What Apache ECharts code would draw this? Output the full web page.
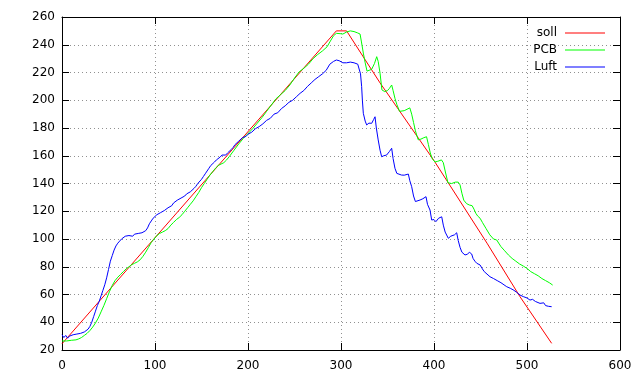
<!DOCTYPE html>
<html>
<head>
<meta charset="utf-8">
<script src="https://cdn.jsdelivr.net/npm/echarts@6/dist/echarts.min.js"></script>
<style>html,body{margin:0;padding:0;background:#fff}#c{width:640px;height:384px}</style>
</head>
<body>
<div id="c"></div>
<script>
const seriesNames = ['soll', 'PCB', 'Luft'];
const xTicks = [0, 100, 200, 300, 400, 500, 600];
const yTicks = [20, 40, 60, 80, 100, 120, 140, 160, 180, 200, 220, 240, 260];

const soll = [[0,24.5],[295,250],[306,250],[342,212.5],[400,156.5],[457,97],[492.5,58.4],[526.5,24.8]];

const pcb = [[0,26.5],[5,26.5],[10,27],[15,27.3],[18,28],[21,29],[24,30.5],[27,32],[30,34],[33,36.5],[36,39.5],[39,43],[42,47.5],[45,52],[48,57],[51,62],[54,66.5],[57,70],[60,72.5],[63,74.5],[66,76.5],[69,78.5],[72,80],[75,81.5],[78,82.5],[81,83.5],[84,85],[87,87.5],[90,90.5],[93,94],[96,97.5],[99,100],[102,102.5],[105,104],[108,105],[111,106],[114,107.5],[117,110],[120,112],[123,114],[126,115.5],[129,117.5],[132,120],[135,122.5],[138,125],[141,127.5],[144,130.5],[147,133.5],[150,137],[153,140],[156,143],[159,146],[162,148.5],[165,151],[168,153],[171,154],[174,155],[177,157],[180,159.5],[185,164],[190,168.5],[195,172.5],[200,176],[205,179.5],[210,183.5],[215,187.5],[220,192],[225,196.5],[230,201],[235,204],[240,207],[245,211],[250,216],[255,220.5],[260,223],[265,226],[270,230],[275,233],[280,235.5],[285,238.5],[288,242],[292,246.5],[295,248.2],[299,248],[302,247.7],[306,249.2],[310,250],[314,249.5],[318,248.5],[320.5,247.7],[322,242],[324,234],[326,227],[328,221],[330,220.5],[333,222.3],[336,226.5],[338.4,231.4],[340,228],[342,219.5],[344,207.5],[347,206.2],[350,207],[352,208.5],[354.5,211],[356,207],[358,201.4],[360,197],[363,192],[365,191.5],[368,192.5],[371,193.5],[374,194.5],[376,190],[378,184],[380,178],[383,171.5],[386,172],[389,173],[392,173.7],[394,168],[396,162],[398,158],[401,155.5],[404,156],[408,157],[410,155],[412,149],[415,140.5],[419,140],[421,140.5],[423,141],[426,141],[428,139],[430,133],[432,128],[435,125.5],[438,124.5],[441,124],[443,121.5],[445,118.5],[447,116.5],[449.5,115],[452,112],[456,107.5],[460,103],[464,100],[467.4,99.3],[472,94.5],[476,91.5],[480,88.5],[484,86],[488,84],[492,82],[496,80.5],[500,78.8],[504,76.5],[508,75],[512,73.5],[516,71.5],[520,70],[524,68.5],[527.6,66.8]];

const luft = [[0,31],[2,29],[4,30.5],[6,28.5],[8,30],[10,29.5],[12,31],[14,30],[16,31.5],[18,31],[20,32],[22,31.5],[24,33],[26,34],[28,35],[30,37],[32,40],[34,44],[36,48],[38,52],[40,55],[42,59],[44,63],[46,67],[48,72],[50,78],[52,84],[54,88],[56,92],[58,95],[60,97],[62,98.5],[64,100],[66,101],[68,102],[70,101.5],[72,102.5],[74,103],[76,102],[78,103.5],[80,103],[82,104],[84,103],[86,104.5],[88,105],[90,106],[92,108],[94,111],[96,113],[98,115],[100,116],[102,117.5],[104,118],[106,119],[108,119.5],[110,120.5],[112,121],[114,122.5],[116,123],[118,124],[120,126],[122,126.5],[124,128],[126,129],[128,129.5],[130,130.5],[132,131],[134,132.5],[136,133],[138,134],[140,135],[142,136.5],[144,138],[146,140],[148,141],[150,143],[152,145],[154,147],[156,149],[158,151],[160,153],[162,154],[164,155.5],[166,157],[168,158],[170,159],[172,160.5],[174,161],[176,160.5],[178,162],[180,163],[182,164.5],[184,166],[186,168],[188,169],[190,170.5],[192,171],[194,173],[196,172.5],[198,174],[200,175.5],[204,177],[208,179.5],[212,181],[216,183],[220,185.5],[224,187],[228,190],[232,191],[236,194],[240,196],[244,198.5],[248,200],[252,202.5],[256,205],[260,207],[264,210],[268,212.5],[272,215],[276,217],[280,219],[284,221.5],[288,226],[292,228],[295,229],[298,228.5],[300,228],[302,227],[304,228],[306,227],[308,226.5],[310,227.5],[312,228],[314,227],[316,226.6],[318,226],[319.7,227],[321,219],[322.2,209.8],[323,200],[324,190.6],[326,185],[327.6,182.2],[330,183.5],[333,183.4],[335,186],[336.6,188.1],[338,180],[340,171.4],[342,164],[343.7,159.3],[346,160],[349,160.5],[352,163],[354.5,165.4],[356,158],[358,151],[360,147.3],[362,146],[365,146.1],[368,146],[370,146.5],[372.4,146.8],[374,142],[376,137.7],[378,131],[380,127],[382,126.5],[385,128.1],[388,129],[391.4,130.5],[393,125],[395.7,120.9],[397.5,113.7],[400,114],[402,112.5],[405,115],[407,116],[408.3,116],[410,110],[412,105],[415.4,100.5],[418,102],[420,101.5],[422,103],[424.4,104.5],[426,99],[428,94],[430,90.5],[433.3,88.5],[436,89],[438,90.5],[440.5,89.2],[442,86],[444,84],[446,82.5],[449.5,81.3],[452,78.5],[454,76.5],[456,75.5],[460.2,72.8],[464,71.5],[468,70],[472,68.5],[478.2,65.6],[482,64.5],[486,63],[489,61.5],[492.5,59.6],[496,58.5],[500,57.5],[503.2,56],[506,56.5],[509,55],[514,53.6],[516,53],[518,54],[520,52],[523,51.5],[526.5,51.2]];

const colors = ['#ff0000', '#00ff00', '#0000ff'];
const FONT = 'DejaVu Sans';

const chart = echarts.init(document.getElementById('c'), null, {renderer: 'canvas'});
const xMin = xTicks[0], xMax = xTicks[xTicks.length - 1], xInt = xTicks[1] - xTicks[0];
const yMin = yTicks[0], yMax = yTicks[yTicks.length - 1], yInt = yTicks[1] - yTicks[0];
const axisLine = {show: true, onZero: false, lineStyle: {color: '#000', width: 1}};
const tick = {show: true, inside: true, length: 7, lineStyle: {color: '#000'}};
const grid = {show: true, lineStyle: {color: '#909090', type: [1, 3], width: 1}};
const lbl = {color: '#000', fontFamily: FONT, fontSize: 12};

chart.setOption({
  animation: false,
  backgroundColor: '#fff',
  grid: {left: 62, right: 20, top: 17, bottom: 34, containLabel: false},
  legend: {
    orient: 'vertical', right: 30, top: 22, align: 'right',
    itemWidth: 40, itemHeight: 12, itemGap: 5,
    textStyle: {color: '#000', fontFamily: FONT, fontSize: 12, padding: [0, 3, 0, 0]},
    data: seriesNames.map(n => ({name: n, icon: 'path://M0,0L40,0L40,1L0,1Z'}))
  },
  xAxis: [
    {type: 'value', position: 'bottom', min: xMin, max: xMax, interval: xInt,
     axisLine, axisTick: tick, splitLine: grid,
     axisLabel: Object.assign({margin: 10}, lbl)},
    {type: 'value', position: 'top', min: xMin, max: xMax, interval: xInt,
     axisLine, axisTick: tick, splitLine: {show: false}, axisLabel: {show: false}}
  ],
  yAxis: [
    {type: 'value', position: 'left', min: yMin, max: yMax, interval: yInt,
     axisLine, axisTick: tick, splitLine: grid,
     axisLabel: Object.assign({margin: 7}, lbl)},
    {type: 'value', position: 'right', min: yMin, max: yMax, interval: yInt,
     axisLine, axisTick: tick, splitLine: {show: false}, axisLabel: {show: false}}
  ],
  series: [soll, pcb, luft].map((d, i) => ({
    name: seriesNames[i], type: 'line', data: d, showSymbol: false, symbol: 'none',
    xAxisIndex: 0, yAxisIndex: 0,
    lineStyle: {color: colors[i], width: 1}, itemStyle: {color: colors[i]}
  }))
});
</script>
</body>
</html>
